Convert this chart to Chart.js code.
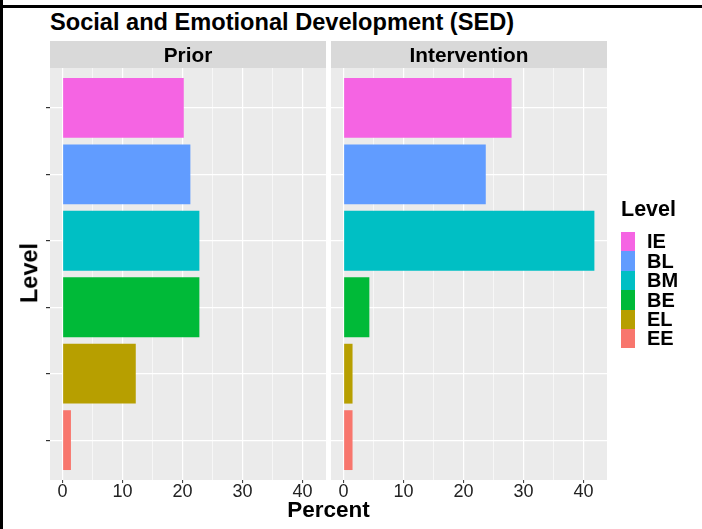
<!DOCTYPE html>
<html>
<head>
    <title>Social and Emotional Development (SED)</title>
    <script src="https://cdn.jsdelivr.net/npm/chart.js"></script>
    <style>
        body { margin: 0; background: #fff; }
        #wrap { position: relative; width: 702px; height: 529px; overflow: hidden; font-family: 'Liberation Sans', Arial, sans-serif; }
        #wrap canvas { position: absolute; left: 0; top: 0; }
        .txt { position: absolute; white-space: nowrap; font-weight: bold; color: #000; line-height: 1; }
        .strip { position: absolute; top: 41px; height: 27px; background: #d9d9d9; }
        .key { position: absolute; left: 621px; width: 14px; height: 19.4px; }
    </style>
</head>
<body>
<div id="wrap">
    <div style="position:absolute;left:0;top:0;width:3px;height:529px;background:#000"></div>
    <div style="position:absolute;left:0;top:5px;width:702px;height:3px;background:#000"></div>
    <div class="txt" style="left:50px;top:11px;font-size:23.6px">Social and Emotional Development (SED)</div>
    <div class="strip" style="left:50px;width:276px"></div>
    <div class="strip" style="left:331px;width:276px"></div>
    <canvas id="priorChart" width="702" height="529"></canvas>
    <canvas id="interventionChart" width="702" height="529"></canvas>
    <div class="txt" style="left:50px;width:276px;text-align:center;top:45.4px;font-size:20.8px">Prior</div>
    <div class="txt" style="left:331px;width:276px;text-align:center;top:45.4px;font-size:20.8px">Intervention</div>
    <div class="txt" style="left:0;width:657px;text-align:center;top:499px;font-size:22.5px">Percent</div>
    <div class="txt" style="left:30px;top:273px;font-size:23.5px;transform:translate(-50%,-50%) rotate(-90deg)">Level</div>
    <div id="legend"></div>
</div>
<script>
    // levels top to bottom, as in the picture
    const levels = ['IE', 'BL', 'BM', 'BE', 'EL', 'EE'];
    const levelColors = ['#F564E3', '#619CFF', '#00BFC4', '#00BA38', '#B79F00', '#F8766D'];
    const priorPct = [20.2, 21.3, 22.8, 22.8, 12.2, 1.4];
    const interventionPct = [28.0, 23.7, 41.8, 4.3, 1.5, 1.5];
    const xTicks = [0, 10, 20, 30, 40];

    const X_MIN = -2.09, X_MAX = 43.9;

    // grey panel background
    const panelBg = {
        id: 'panelBg',
        beforeDraw(chart) {
            const a = chart.chartArea;
            const c = chart.ctx;
            c.save();
            c.fillStyle = '#ebebeb';
            c.fillRect(a.left, a.top, a.right - a.left, a.bottom - a.top);
            c.restore();
        }
    };

    function makeChart(id, values, left, showYTicks) {
        const ctx = document.getElementById(id).getContext('2d');
        return new Chart(ctx, {
            type: 'bar',
            data: {
                labels: levels,
                datasets: [{
                    data: values,
                    backgroundColor: levelColors,
                    categoryPercentage: 0.9,
                    barPercentage: 1
                }]
            },
            options: {
                indexAxis: 'y',
                responsive: false,
                animation: false,
                layout: { padding: { left: left - (showYTicks ? 4 : 0), top: 68, right: 702 - (left + 276), bottom: 27 } },
                plugins: { legend: { display: false }, tooltip: { enabled: false } },
                scales: {
                    x: {
                        type: 'linear',
                        min: X_MIN,
                        max: X_MAX,
                        border: { display: false },
                        grid: {
                            color: '#ffffff',
                            lineWidth: c => (c.tick && xTicks.includes(c.tick.value)) ? 1.2 : 0.6,
                            tickLength: 3,
                            tickWidth: 1,
                            tickColor: c => (c.tick && xTicks.includes(c.tick.value)) ? '#333333' : 'rgba(0,0,0,0)'
                        },
                        ticks: {
                            stepSize: 5,
                            includeBounds: false,
                            autoSkip: false,
                            maxRotation: 0,
                            padding: -2,
                            color: '#222',
                            font: { family: "'Liberation Sans', Arial, sans-serif", size: 18 },
                            callback: v => xTicks.includes(v) ? String(v) : ''
                        },
                        afterFit: s => { s.height = 22; }
                    },
                    y: {
                        type: 'category',
                        offset: true,
                        border: { display: false },
                        grid: {
                            offset: false,
                            color: '#ffffff',
                            lineWidth: 1.2,
                            drawTicks: showYTicks,
                            tickLength: 4,
                            tickColor: '#333333'
                        },
                        ticks: { callback: () => '', padding: 0 },
                        // ggplot style: 0.6 of a category of space at both ends
                        afterBuildTicks: s => { s._startValue = -0.6; s._valueRange = levels.length + 0.2; },
                        afterFit: s => { s.width = showYTicks ? 4 : 0; }
                    }
                }
            },
            plugins: [panelBg]
        });
    }

    makeChart('priorChart', priorPct, 50, true);
    makeChart('interventionChart', interventionPct, 331, false);

    // legend
    const legend = document.getElementById('legend');
    let html = '<div class="txt" style="left:621px;top:198.8px;font-size:21.5px">Level</div>';
    levels.forEach((lv, i) => {
        const top = 232 + i * 19.4;
        html += '<div class="key" style="top:' + top + 'px;background:' + levelColors[i] + '"></div>';
        html += '<div class="txt" style="left:647px;top:' + (top - 0.6) + 'px;font-size:20px">' + lv + '</div>';
    });
    legend.innerHTML = html;
</script>
</body>
</html>
